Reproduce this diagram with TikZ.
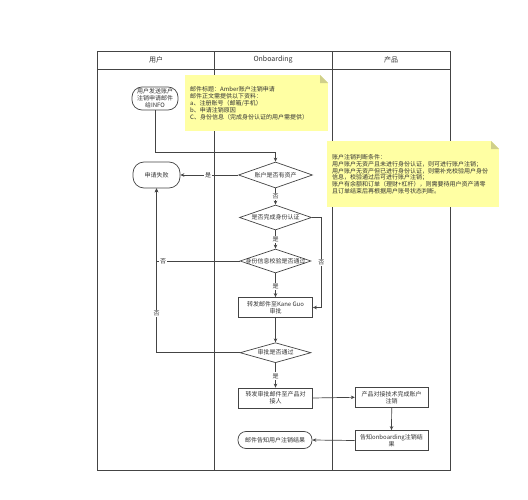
\documentclass[tikz,border=0pt]{standalone}
\usepackage{fontspec}
\setmainfont{Noto Sans CJK SC}
\usetikzlibrary{shapes.geometric,arrows.meta}
\definecolor{linegray}{HTML}{444444}
\definecolor{notebg}{HTML}{FFFFA3}
\definecolor{notefold}{HTML}{D0D08A}

\begin{document}
\begin{tikzpicture}[x=1pt,y=-1pt,
    font=\fontsize{6}{6.8}\selectfont,text=black!80,
    line/.style={draw=linegray,line width=0.7pt},
    arr/.style={line,-{Stealth[length=4pt,width=3.5pt]}},
    proc/.style={line,rectangle,inner sep=0pt,minimum width=74pt,minimum height=20pt,align=center},
    term/.style={proc,rounded corners=8pt},
    dec/.style={line,diamond,inner sep=0pt,minimum width=72pt},
    yesno/.style={fill=white,inner sep=1pt},
    note/.style={fill=notebg,anchor=north west,align=left,inner xsep=5pt,inner ysep=0pt,
      path picture={
        \fill[white] (path picture bounding box.north east) -- ++(-8pt,0pt) -- ++(8pt,-8pt) -- cycle;
        \fill[notefold] (path picture bounding box.north east) ++(-8pt,0pt) -- ++(0pt,-8pt) -- ++(8pt,0pt) -- cycle;}}]
    \path[fill=white,use as bounding box] (0,0) rectangle (528,500);

    % lanes
    \draw[line] (97.5,51.5) rectangle (450,470.5);
    \draw[line] (97.5,69) -- (450,69);
    \draw[line] (214,51.5) -- (214,470.5);
    \draw[line] (332,51.5) -- (332,470.5);
    \node[font=\fontsize{7}{8}\selectfont] (laneuser) at (156,60) {用户};
    \node[font=\fontsize{7}{8}\selectfont] (laneonb) at (273,60) {Onboarding};
    \node[font=\fontsize{7}{8}\selectfont] (laneprod) at (391,60) {产品};

    % notes
    \node[note,text width=133pt,minimum height=56pt] (mailnote) at (185,75)
      {邮件标题：Amber账户注销申请\\邮件正文需提供以下资料：\\a、注册账号（邮箱/手机）\\b、申请注销原因\\C、身份信息（完成身份认证的用户需提供）};
    \node[note,text width=162pt,minimum height=66pt] (rulenote) at (327,141)
      {账户注销判断条件：\\用户账户无资产且未进行身份认证，则可进行账户注销；\\用户账户无资产但已进行身份认证，则需补充校验用户身份\\信息，校验通过后可进行账户注销；\\账户有余额和订单（理财+杠杆），则需要待用户资产清零\\且订单结束后再根据用户账号状态判断。};

    % flow
    \node[term,minimum width=46pt,minimum height=23pt,rounded corners=10pt] (start) at (155,98.5) {用户发送账户\\注销申请邮件\\给INFO};
    \node[term,minimum width=47pt,minimum height=26pt,rounded corners=11pt] (fail) at (156.5,175) {申请失败};
    \node[dec,minimum height=26pt,minimum width=74pt,label=center:{账户是否有资产}] (asset) at (275.5,175) {};
    \node[dec,minimum height=25pt,label=center:{是否完成身份认证}] (idauth) at (275.5,217.5) {};
    \node[dec,minimum height=24pt,minimum width=71pt,label=center:{身份信息校验是否通过}] (idcheck) at (275.5,261) {};
    \node[proc] (kane) at (275.5,307.5) {转发邮件至Kane Guo\\审批};
    \node[dec,minimum height=20pt,minimum width=71pt,label=center:{审批是否通过}] (approve) at (275.5,352.7) {};
    \node[proc] (forward) at (275.5,398) {转发审批邮件至产品对\\接人};
    \node[proc,minimum width=73pt] (tech) at (391.7,397.3) {产品对接技术完成账户\\注销};
    \node[proc,minimum width=73pt] (tell) at (391.5,440.5) {告知onboarding注销结\\果};
    \node[term,minimum height=17pt] (notify) at (275,440) {邮件告知用户注销结果};

    \draw[arr] (start.south) -- ++(0,41.7) -| (asset.north);
    \draw[arr] (asset.west) -- (fail.east) node[yesno,pos=0.52]{是};
    \draw[arr] (asset.south) -- (idauth.north) node[yesno,pos=0.5]{否};
    \draw[arr] (idauth.south) -- (idcheck.north) node[yesno,pos=0.5]{是};
    \draw[arr] (idauth.east) -- ++(9.5,0) |- (kane.east) node[yesno,pos=0.25]{否};
    \draw[arr] (idcheck.south) -- (kane.north) node[yesno,pos=0.55]{是};
    \draw[arr] (idcheck.west) -| (fail.south) node[yesno,pos=0.46]{否};
    \draw[arr] (approve.west) -| (fail.south) node[yesno,pos=0.62]{否};
    \draw[arr] (kane.south) -- (approve.north);
    \draw[arr] (approve.south) -- (forward.north) node[yesno,pos=0.53]{是};
    \draw[arr] (forward.east) -- (tech.west);
    \draw[arr] (tech.south) -- (tell.north);
    \draw[arr] (tell.west) -- (notify.east);
  \end{tikzpicture}
\end{document}
